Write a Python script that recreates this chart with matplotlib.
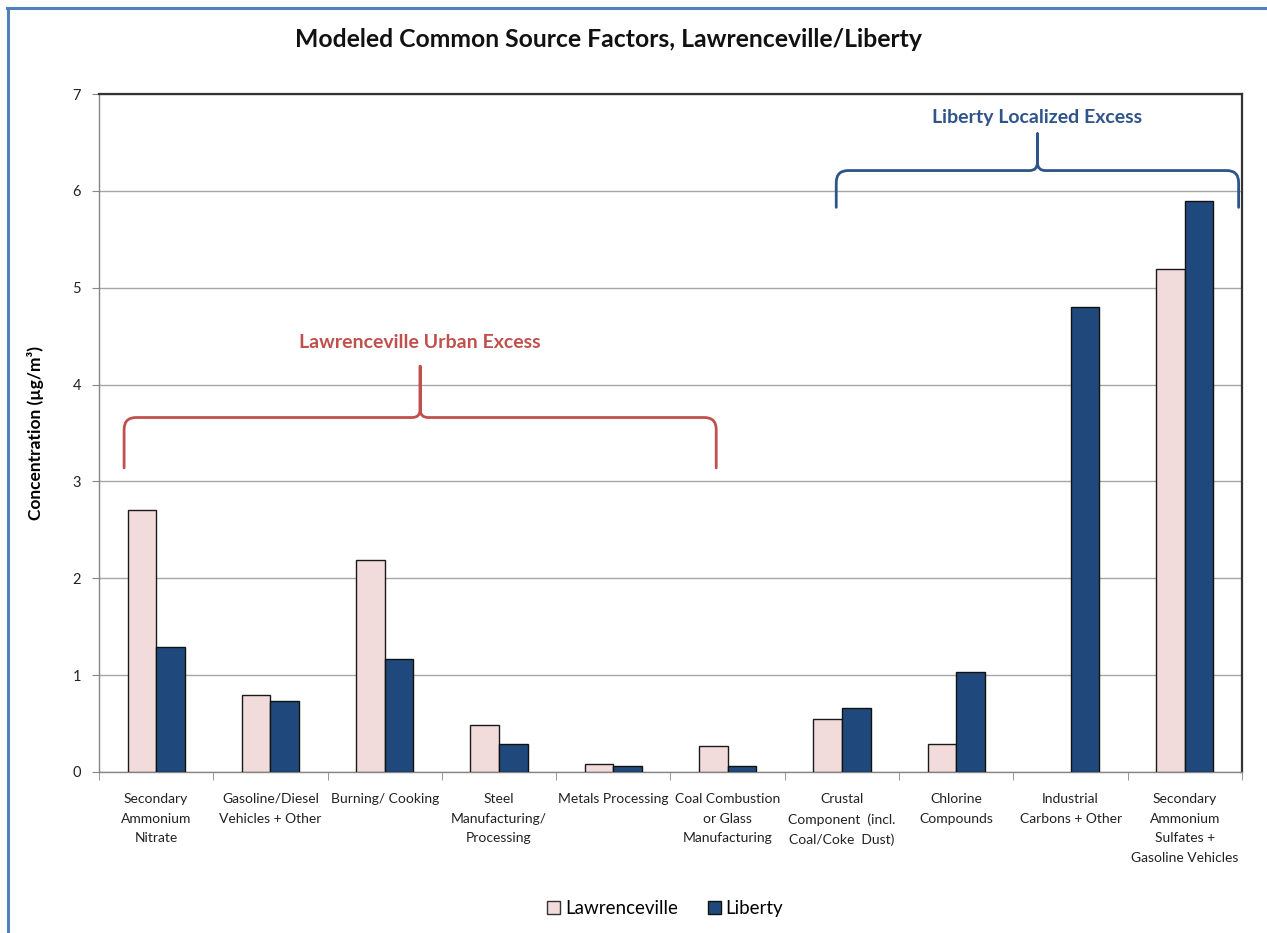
import matplotlib
matplotlib.use("Agg")
import matplotlib.pyplot as plt
import numpy as np
from matplotlib.path import Path
from matplotlib.patches import PathPatch, Patch
from matplotlib.lines import Line2D
from matplotlib.transforms import IdentityTransform

plt.rcParams['font.family'] = ['Lato', 'DejaVu Sans']

# ---- data ----
categories = [
    "Secondary\nAmmonium\nNitrate",
    "Gasoline/Diesel\nVehicles + Other",
    "Burning/ Cooking",
    "Steel\nManufacturing/\nProcessing",
    "Metals Processing",
    "Coal Combustion\nor Glass\nManufacturing",
    "Crustal\nComponent  (incl.\nCoal/Coke  Dust)",
    "Chlorine\nCompounds",
    "Industrial\nCarbons + Other",
    "Secondary\nAmmonium\nSulfates +\nGasoline Vehicles",
]
lawrenceville = [2.71, 0.79, 2.19, 0.49, 0.08, 0.27, 0.55, 0.285, 0.0, 5.19]
liberty = [1.29, 0.73, 1.17, 0.29, 0.065, 0.065, 0.66, 1.03, 4.80, 5.90]
series_names = ["Lawrenceville", "Liberty"]
y_ticks = [0, 1, 2, 3, 4, 5, 6, 7]

# bracket annotations: (x start, x end, label) in category units
urban_span = (-0.28, 4.90, "Lawrenceville Urban Excess")
local_span = (5.95, 9.47, "Liberty Localized Excess")

pink = "#F2DCDB"
navy = "#1F497D"
red_txt = "#C0504D"
blue_txt = "#2E5489"

fig = plt.figure(figsize=(12.67, 9.33), dpi=100)
ax = fig.add_axes([0.0781, 0.1726, 0.9022, 0.7266])

x = np.arange(len(categories))
w = 0.25
law = np.array(lawrenceville)
ax.bar(x - w / 2, law, w, color=pink, edgecolor="#1a1a1a",
       linewidth=np.where(law > 0, 1.0, 0.0), zorder=3)
ax.bar(x + w / 2, liberty, w, color=navy, edgecolor="#111111", linewidth=1.0, zorder=3)

ax.set_xlim(-0.5, len(categories) - 0.5)
ax.set_ylim(0, 7)
ax.set_yticks(y_ticks)
ax.set_yticklabels([str(t) for t in y_ticks], fontsize=10.5, color="#222222")
ax.yaxis.grid(True, color="#A6A6A6", linewidth=1.0, zorder=0)
ax.tick_params(axis="y", length=5, color="#868686", pad=8)

ax.set_xticks(x)
ax.set_xticklabels(categories, fontsize=10, linespacing=1.78, color="#222222", va="top")
ax.tick_params(axis="x", which="major", length=0, pad=15)
ax.set_xticks(np.arange(len(categories) + 1) - 0.5, minor=True)
ax.tick_params(axis="x", which="minor", length=6, color="#868686")

for s in ("left", "bottom"):
    ax.spines[s].set_color("#868686")
    ax.spines[s].set_linewidth(1.0)
for s in ("top", "right"):
    ax.spines[s].set_color("#333333")
    ax.spines[s].set_linewidth(1.6)

ax.set_ylabel("Concentration (µg/m³)", fontsize=12.5, fontweight="bold", labelpad=20)

fig.text(0.48, 0.958, "Modeled Common Source Factors, Lawrenceville/Liberty",
         ha="center", va="center", fontsize=17.8, fontweight="bold", color="#111111")


def draw_brace(x0, x1, y_leg, y_bar, y_tip, color):
    """Curly bracket drawn in pixel space from data-space anchors."""
    to_px = ax.transData.transform
    (px0, pb), = to_px([(x0, y_leg)])
    (px1, _), = to_px([(x1, y_leg)])
    (_, ph), = to_px([(x0, y_bar)])
    (_, pt), = to_px([(x0, y_tip)])
    pm = (px0 + px1) / 2
    r = 12.0
    rc = 8.0
    verts, codes = [], []
    # left half
    verts += [(px0, pb), (px0, ph - r), (px0, ph), (px0 + r, ph),
              (pm - rc, ph), (pm, ph), (pm, ph + rc), (pm, pt)]
    codes += [Path.MOVETO, Path.LINETO, Path.CURVE3, Path.CURVE3,
              Path.LINETO, Path.CURVE3, Path.CURVE3, Path.LINETO]
    # right half
    verts += [(px1, pb), (px1, ph - r), (px1, ph), (px1 - r, ph),
              (pm + rc, ph), (pm, ph), (pm, ph + rc), (pm, pt)]
    codes += [Path.MOVETO, Path.LINETO, Path.CURVE3, Path.CURVE3,
              Path.LINETO, Path.CURVE3, Path.CURVE3, Path.LINETO]
    patch = PathPatch(Path(verts, codes), facecolor="none", edgecolor=color,
                      linewidth=2.0, transform=IdentityTransform(), zorder=5,
                      capstyle="round", joinstyle="round")
    fig.add_artist(patch)
    return pm


xa, xb, lab = urban_span
draw_brace(xa, xb, 3.14, 3.66, 4.19, red_txt)
ax.text((xa + xb) / 2, 4.43, lab, ha="center", va="center", fontsize=14,
        fontweight="bold", color=red_txt, zorder=6)

xa, xb, lab = local_span
draw_brace(xa, xb, 5.83, 6.21, 6.59, blue_txt)
ax.text((xa + xb) / 2, 6.76, lab, ha="center", va="center", fontsize=14,
        fontweight="bold", color=blue_txt, zorder=6)

handles = [Patch(facecolor=pink, edgecolor="#333333", linewidth=1.0),
           Patch(facecolor=navy, edgecolor="#111111", linewidth=1.0)]
fig.legend(handles, series_names, loc="center", bbox_to_anchor=(0.525, 0.026),
           ncol=2, frameon=False, fontsize=13.5, handlelength=0.7, handleheight=0.7,
           handletextpad=0.25, columnspacing=1.6)

# outer chart border
border = "#4F81BD"
fig.add_artist(Line2D([0.0063, 0.0063], [0.0, 0.9915], color=border, linewidth=2.2,
                      transform=fig.transFigure))
fig.add_artist(Line2D([0.0055, 1.0], [0.9915, 0.9915], color=border, linewidth=2.2,
                      transform=fig.transFigure))

fig.savefig("out.png", dpi=100, facecolor="white")
